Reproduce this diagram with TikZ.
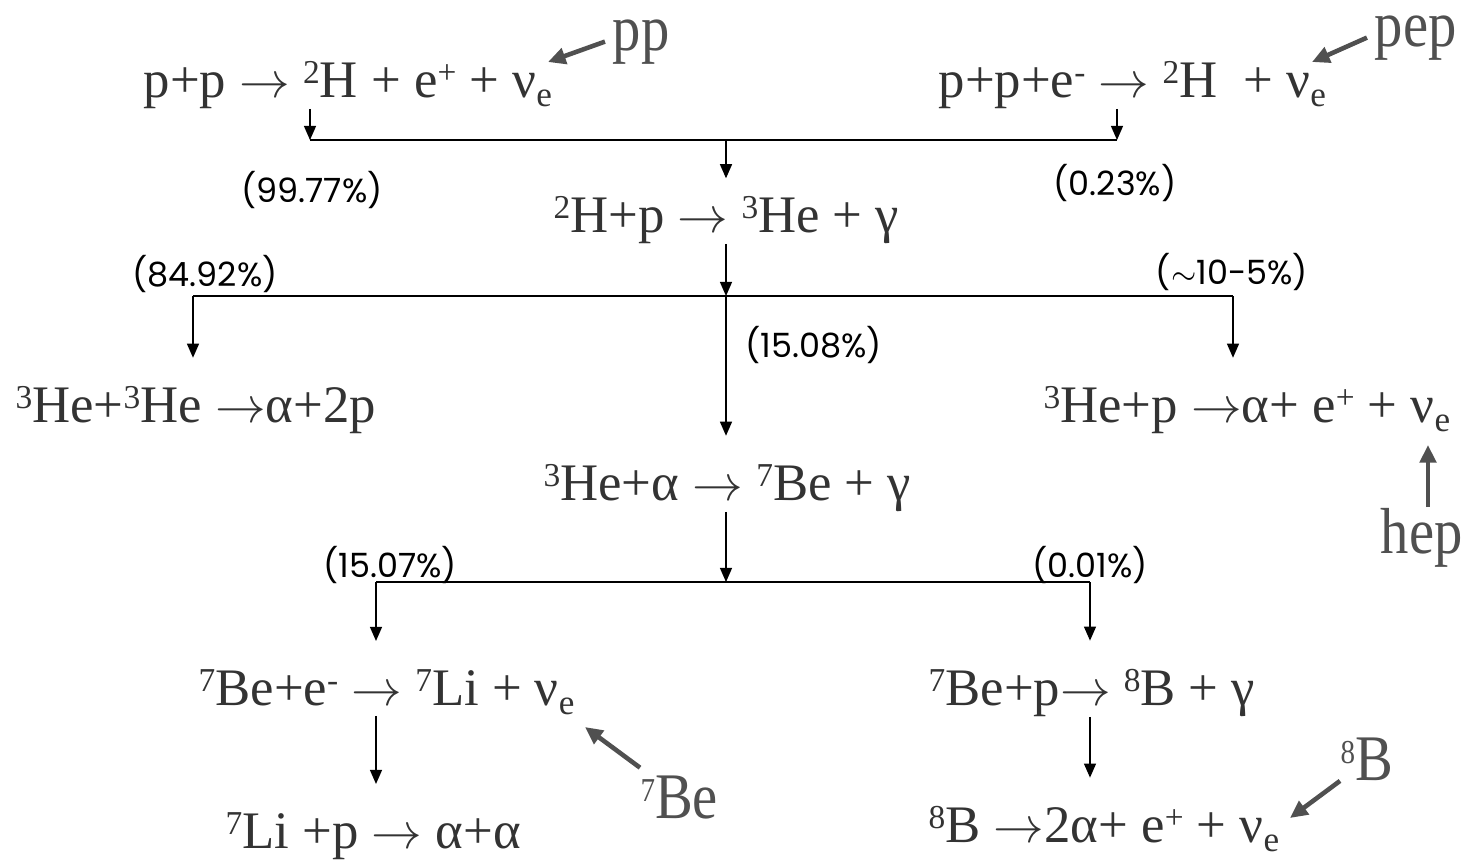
\documentclass[tikz,border=0pt]{standalone}
\usepackage{fontspec}
\usepackage{graphicx}
\setmainfont{Liberation Serif}
\newfontfamily\pctfont{Poppins}
\usetikzlibrary{arrows.meta}
\definecolor{inkgray}{HTML}{333333}
\definecolor{taggray}{HTML}{505050}
\tikzset{
  rxn/.style={font=\fontsize{15}{18}\selectfont, text=inkgray, inner sep=0pt, anchor=base west},
  pct/.style={font=\pctfont\fontsize{9.5}{11}\selectfont, inner sep=0pt},
  tag/.style={font=\fontsize{18.5}{22}\selectfont, text=taggray, inner sep=0pt, anchor=base west},
  flow/.style={-{Triangle[length=4pt,width=3.4pt]}, thin},
  gap/.style={shorten >=8pt},
  pointer/.style={-{Triangle[length=5pt,width=4.6pt]}, line width=1.3pt, taggray},
}
\newcommand{\up}[1]{\raisebox{0.55ex}{\fontsize{9.5}{9.5}\selectfont #1}}
\newcommand{\dn}[1]{\raisebox{-0.4ex}{\fontsize{10}{10}\selectfont #1}}
\newcommand{\ra}{\ensuremath{\rightarrow}}
\newcommand{\tg}[1]{\scalebox{0.87}[1]{#1}}
\begin{document}
\begin{tikzpicture}[x=0.01cm, y=-0.01cm]
\useasboundingbox (0,0) rectangle (1472,859);
% reactions
\node[rxn] (r1l) at (143,97) {p+p \ra{} \up{2}H + e\up{+} + ν\dn{e}};
\node[rxn] (r1r) at (938,97) {p+p+e\up{-} \ra{} \up{2}H\ \ + ν\dn{e}};
\node[rxn] (r2) at (553,232) {\up{2}H+p \ra{} \up{3}He + γ};
\node[rxn] (r3l) at (15,422) {\up{3}He+\up{3}He \ra{}α+2p};
\node[rxn] (r3r) at (1043,422) {\up{3}He+p \ra{}α+ e\up{+} + ν\dn{e}};
\node[rxn] (r4) at (543,500) {\up{3}He+α \ra{} \up{7}Be + γ};
\node[rxn] (r5l) at (198,705) {\up{7}Be+e\up{-} \ra{} \up{7}Li + ν\dn{e}};
\node[rxn] (r5r) at (928,705) {\up{7}Be+p\ra{} \up{8}B + γ};
\node[rxn] (r6l) at (225,848) {\up{7}Li +p \ra{} α+α};
\node[rxn] (r6r) at (928,842) {\up{8}B \ra{}2α+ e\up{+} + ν\dn{e}};
% branching ratios
\node[pct] (p1l) at (312,190) {(99.77\%)};
\node[pct] (p1r) at (1115,183) {(0.23\%)};
\node[pct] (p2l) at (205,274) {(84.92\%)};
\node[pct] (p2r) at (1232,272) {($\sim$10-5\%)};
\node[pct, anchor=west] (p2c) at (745,345) {(15.08\%)};
\node[pct] (p3l) at (390,565) {(15.07\%)};
\node[pct] (p3r) at (1090,565) {(0.01\%)};
% neutrino tags
\node[tag] (pp) at (612,50) {\tg{pp}};
\node[tag] (pep) at (1374,46) {\tg{pep}};
\node[tag] (hep) at (1380,553) {\tg{hep}};
\node[tag] (be7) at (640,818) {\tg{\up{7}Be}};
\node[tag] (b8) at (1340,780) {\tg{\up{8}B}};
\coordinate (nupp) at (548,62);
\coordinate (nupep) at (1312,62);
\coordinate (nuhep) at (1428,445);
\coordinate (nube) at (585,727);
\coordinate (nub) at (1290,818);
% branch points
\coordinate (j1) at (726,140); \coordinate (b1l) at (310,140); \coordinate (b1r) at (1117,140);
\coordinate (j2) at (726,296); \coordinate (b2l) at (193,296); \coordinate (b2r) at (1233,296);
\coordinate (j3) at (726,582); \coordinate (b3l) at (376,582); \coordinate (b3r) at (1090,582);
% step 1
\draw[flow] (b1l |- r1l.south) -- (b1l);
\draw[flow] (b1r |- r1r.south) -- (b1r);
\draw (b1l) -- (b1r);
\draw[flow, shorten >=5pt] (j1) -- (j1 |- r2.north);
% step 2
\draw[flow] (j2 |- r2.south) -- (j2);
\draw (b2l) -- (b2r);
\draw[flow, gap] (b2l) -- (b2l |- r3l.north);
\draw[flow, gap] (b2r) -- (b2r |- r3r.north);
\draw[flow, gap] (j2) -- (j2 |- r4.north);
% step 3
\draw[flow] (j3 |- r4.south) -- (j3);
\draw (b3l) -- (b3r);
\draw[flow, gap] (b3l) -- (b3l |- r5l.north);
\draw[flow, gap] (b3r) -- (b3r |- r5r.north);
\draw[flow, gap] (b3l |- r5l.south) -- (b3l |- r6l.north);
\draw[flow, gap] (b3r |- r5r.south) -- (b3r |- r6r.north);
% pointers
\draw[pointer] ([xshift=-2pt]pp.west) -- (nupp);
\draw[pointer] ([xshift=-2pt]pep.west) -- (nupep);
\draw[pointer] (hep.north -| nuhep) -- (nuhep);
\draw[pointer] ([yshift=2pt]be7.north west) -- (nube);
\draw[pointer] (b8.south west) -- (nub);
\end{tikzpicture}
\end{document}
